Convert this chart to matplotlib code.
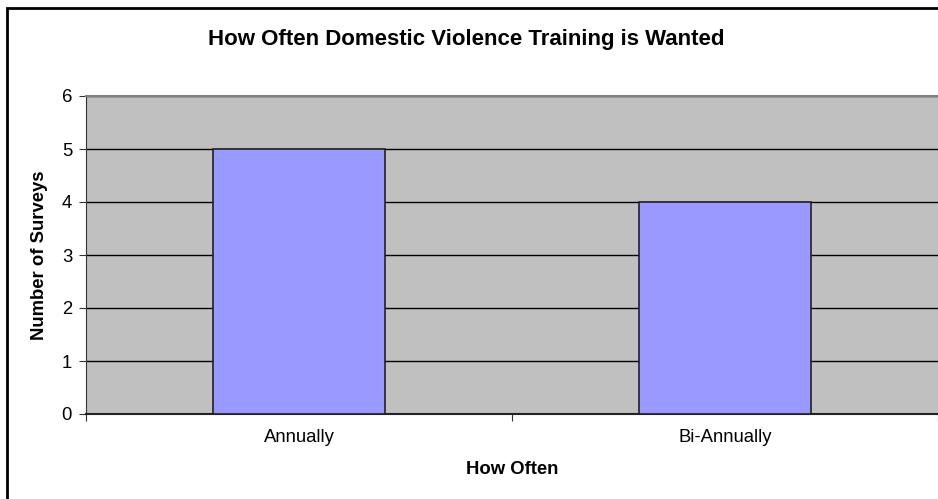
import matplotlib
matplotlib.use("Agg")
import matplotlib.pyplot as plt
from matplotlib.patches import Rectangle

categories = ["Annually", "Bi-Annually"]
counts = [5, 4]
y_ticks = [0, 1, 2, 3, 4, 5, 6]

plt.rcParams['font.family'] = ['Liberation Sans', 'DejaVu Sans']

fig = plt.figure(figsize=(9.38, 4.99), dpi=100)
ax = fig.add_axes([86 / 938, 85 / 499, 852 / 938, 318 / 499])
ax.set_facecolor('#C0C0C0')

x = list(range(len(categories)))
ax.bar(x, counts, width=0.404, color='#9999FF', edgecolor='#222222', linewidth=1.2, zorder=3)

ax.set_xlim(-0.5, 1.5)
ax.set_ylim(0, 6)
ax.set_yticks(y_ticks)
ax.yaxis.grid(True, color='black', linewidth=1, zorder=1)
ax.set_axisbelow(True)

# category labels between boundary ticks
ax.set_xticks([-0.5, 0.5, 1.5])
ax.set_xticklabels([])
ax.set_xticks(x, minor=True)
ax.set_xticklabels(categories, minor=True, fontsize=13.3)
ax.tick_params(axis='x', which='minor', length=0, pad=11)
ax.tick_params(axis='x', which='major', length=5, direction='out', color='#333333')
ax.tick_params(axis='y', length=5, direction='out', labelsize=13.3, color='#333333', pad=5)

ax.spines['right'].set_visible(False)
ax.spines['top'].set_color('#808080')
ax.spines['top'].set_linewidth(1.5)
ax.spines['left'].set_color('#333333')
ax.spines['bottom'].set_color('#222222')
ax.spines['bottom'].set_linewidth(1.5)

ax.set_ylabel("Number of Surveys", fontsize=13.3, fontweight='bold')
ax.set_xlabel("How Often", fontsize=13.3, fontweight='bold')
ax.yaxis.set_label_coords(-0.054, 0.5)
ax.xaxis.set_label_coords(0.5, -0.173)
ax.xaxis.label.set_va('center')
ax.yaxis.label.set_va('center')

fig.text(466 / 938, 1 - 40 / 499, "How Often Domestic Violence Training is Wanted",
         ha='center', va='center', fontsize=16, fontweight='bold')

fig.patches.append(Rectangle((7 / 938, -0.05), 1.1, 1 - 8 / 499 + 0.05, transform=fig.transFigure,
                             fill=False, edgecolor='black', linewidth=2))

fig.savefig("out.png", dpi=100)
